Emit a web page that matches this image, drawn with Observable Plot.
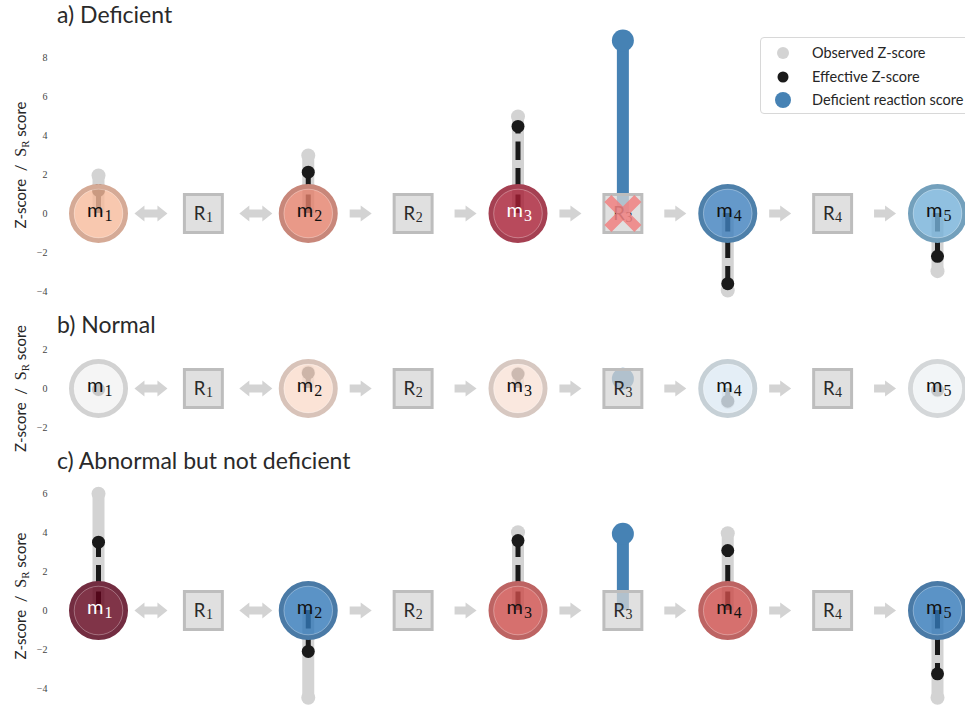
<!DOCTYPE html>
<html>
<head>
<meta charset="utf-8">
<script src="https://cdn.jsdelivr.net/npm/d3@7"></script>
<script src="https://cdn.jsdelivr.net/npm/@observablehq/plot@0.6"></script>
<style>
  body { margin: 0; background: #fff; overflow: hidden; }
  #fig { position: relative; width: 965px; height: 719px; overflow: hidden; font-family: Lato, sans-serif; }
  .title { position: absolute; left: 57px; font-size: 23px; line-height: 23px; color: #2a2a2a; white-space: nowrap; }
  .panel { position: absolute; left: 0; }
  #legend { position: absolute; left: 760px; top: 37px; width: 260px; height: 75px; border: 1px solid #d8d8d8;
            border-radius: 4px; background: rgba(255,255,255,0.85); font-size: 14.5px; color: #262626; }
  #legend .row { position: absolute; left: 0; height: 20px; line-height: 20px; white-space: nowrap; }
  #legend svg { position: absolute; left: 12px; top: 0; }
  #legend span { position: absolute; left: 51px; }
</style>
</head>
<body>
<div id="fig"></div>
<script>
// pathway layout: m1 <-> R1 <-> m2 -> R2 -> m3 -> R3 -> m4 -> R4 -> m5
const metLabels = ["1", "2", "3", "4", "5"]
const metX = [0, 2, 4, 6, 8]
const rxnLabels = ["1", "2", "3", "4"]
const rxnX = [1, 3, 5, 7]
const arrowX = [0.5, 1.5, 2.5, 3.5, 4.5, 5.5, 6.5, 7.5]
const arrowBoth = [true, true, false, false, false, false, false, false]

// a) Deficient
const obsA = [1.95, 2.98, 4.98, -3.95, -2.96]
const effA = [1.18, 2.12, 4.47, -3.6, -2.2]
const fillA = ["#f6ba9b", "#e37f6a", "#a61d33", "#3f80bd", "#74b0d8"]
const strokeA = ["#d5aa96", "#c8877a", "#a54052", "#4e80aa", "#73a0bc"]
const inkA = ["#111", "#111", "#fff", "#111", "#111"]
const scoreA = [null, null, 8.88, null]
const blockedA = [false, false, true, false]

// b) Normal
const obsB = [-0.05, 0.84, 0.77, -0.7, -0.1]
const effB = [-0.05, 0.8, 0.74, -0.65, -0.08]
const fillB = ["#f2f2f2", "#fadccc", "#f9e2d7", "#ddeaf4", "#eff3f5"]
const strokeB = ["#d2d2d2", "#d8c3b9", "#d7c8c1", "#c6d0d6", "#d4d7d9"]
const inkB = ["#111", "#111", "#111", "#111", "#111"]
const scoreB = [null, null, 0.5, null]
const blockedB = [false, false, false, false]

// c) Abnormal but not deficient
const obsC = [5.99, -4.48, 4.02, 3.97, -4.48]
const effC = [3.51, -2.1, 3.59, 3.08, -3.25]
const fillC = ["#60011a", "#3278b8", "#cc4c4a", "#cc4c4a", "#3278b8"]
const strokeC = ["#732d41", "#4a7aa6", "#bd6463", "#bd6463", "#4a7aa6"]
const inkC = ["#fff", "#111", "#111", "#111", "#111"]
const scoreC = [null, null, 3.94, null]
const blockedC = [false, false, false, false]

const panels = [
  {title: "a) Deficient", titleTop: 3, top: 0, height: 305, marginTop: 30, marginBottom: 5,
   y: [-4.466, 9.394], ticks: [-4, -2, 0, 2, 4, 6, 8],
   obs: obsA, eff: effA, fill: fillA, stroke: strokeA, ink: inkA, score: scoreA, blocked: blockedA},
  {title: "b) Normal", titleTop: 313, top: 330, height: 112, marginTop: 10, marginBottom: 5,
   y: [-2.515, 2.464], ticks: [-2, 0, 2],
   obs: obsB, eff: effB, fill: fillB, stroke: strokeB, ink: inkB, score: scoreB, blocked: blockedB},
  {title: "c) Abnormal but not deficient", titleTop: 449, top: 465, height: 254, marginTop: 10, marginBottom: 2,
   y: [-5.49, 6.93], ticks: [-4, -2, 0, 2, 4, 6],
   obs: obsC, eff: effC, fill: fillC, stroke: strokeC, ink: inkC, score: scoreC, blocked: blockedC}
]

// block arrows for Plot.vector (drawn pointing up, rotated to the right)
const sw = 4, hw = 8
const singleArrow = {draw(ctx, l) {
  const h = 11
  ctx.moveTo(-sw, 0); ctx.lineTo(-sw, h - l); ctx.lineTo(-hw, h - l); ctx.lineTo(0, -l)
  ctx.lineTo(hw, h - l); ctx.lineTo(sw, h - l); ctx.lineTo(sw, 0); ctx.closePath()
}}
const doubleArrow = {draw(ctx, l) {
  const h = 10
  ctx.moveTo(0, 0); ctx.lineTo(hw, -h); ctx.lineTo(sw, -h); ctx.lineTo(sw, h - l); ctx.lineTo(hw, h - l)
  ctx.lineTo(0, -l); ctx.lineTo(-hw, h - l); ctx.lineTo(-sw, h - l); ctx.lineTo(-sw, -h); ctx.lineTo(-hw, -h); ctx.closePath()
}}

const fig = d3.select('#fig')
const zero = () => 0
const serif = "Liberation Serif, DejaVu Serif, serif"

panels.forEach(p => {
  const met = metX.map((x, i) => ({x, sub: metLabels[i], obs: p.obs[i], eff: p.eff[i], fill: p.fill[i], stroke: p.stroke[i], ink: p.ink[i]}))
  const rxn = rxnX.map((x, i) => ({x, sub: rxnLabels[i], score: p.score[i], blocked: p.blocked[i]}))
  const arrows = arrowX.map((x, i) => ({x, both: arrowBoth[i]}))
  const scored = rxn.filter(d => d.score != null)

  let chart = Plot.plot({
    width: 965,
    height: p.height,
    marginTop: p.marginTop,
    marginBottom: p.marginBottom,
    marginLeft: 57,
    marginRight: 0,
    x: {domain: [-0.391, 8.267], axis: null},
    y: {domain: p.y},
    color: {type: "identity"},
    style: {fontFamily: "Lato, sans-serif", overflow: "visible", background: "transparent"},
    marks: [
      Plot.axisY({ticks: p.ticks, tickFormat: d3.format("d"), tickSize: 0, tickPadding: 10, line: true, label: null,
                  stroke: "#1a1a1a", strokeWidth: 2, fill: "#444", fontSize: 10}),
      // observed Z-score
      Plot.ruleX(met, {x: "x", y1: zero, y2: "obs", stroke: "#d3d3d3", strokeWidth: 12}),
      Plot.dot(met, {x: "x", y: "obs", r: 7, fill: "#d3d3d3"}),
      // effective Z-score
      Plot.ruleX(met, {x: "x", y1: zero, y2: "eff", stroke: "#1a1a1a", strokeWidth: 5, strokeDasharray: "18.5,8"}),
      Plot.dot(met, {x: "x", y: "eff", r: 6.5, fill: "#1a1a1a"}),
      // deficient reaction score
      Plot.ruleX(scored, {x: "x", y1: zero, y2: "score", stroke: "#4682b4", strokeWidth: 12}),
      Plot.dot(scored, {x: "x", y: "score", r: 11, fill: "#4682b4"}),
      // nodes
      Plot.dot(met, {x: "x", y: zero, r: 27, fill: "fill", stroke: "stroke", strokeWidth: 5, fillOpacity: 0.8}),
      Plot.dot(met, {x: "x", y: zero, r: 24.3, stroke: "white", strokeOpacity: 0.3, strokeWidth: 1}),
      Plot.dot(rxn, {x: "x", y: zero, symbol: "square", r: 21.4, fill: "#d6d6d6", fillOpacity: 0.75, stroke: "#bdbdbd", strokeWidth: 3}),
      Plot.vector(arrows.filter(d => d.both), {x: "x", y: zero, length: 33, rotate: 90, anchor: "middle", shape: doubleArrow, fill: "#d3d3d3", stroke: "none"}),
      Plot.vector(arrows.filter(d => !d.both), {x: "x", y: zero, length: 22, rotate: 90, anchor: "middle", shape: singleArrow, fill: "#d3d3d3", stroke: "none"}),
      // labels
      Plot.text(met, {x: "x", y: zero, text: () => "m", textAnchor: "end", dx: 5, dy: -3.4, fontSize: 20, fill: "ink"}),
      Plot.text(met, {x: "x", y: zero, text: "sub", textAnchor: "start", dx: 6, dy: 2.2, fontSize: 16, fontFamily: serif, fill: "ink"}),
      Plot.text(rxn, {x: "x", y: zero, text: () => "R", textAnchor: "end", dx: 2, dy: 0.5, fontSize: 18.5, fill: "#2a2a2a"}),
      Plot.text(rxn, {x: "x", y: zero, text: "sub", textAnchor: "start", dx: 2.5, dy: 4, fontSize: 14, fontFamily: serif, fill: "#2a2a2a"}),
      // knocked-out reaction
      Plot.dot(rxn.filter(d => d.blocked), {x: "x", y: zero, symbol: "times", r: 13.7, stroke: "#f08080", strokeWidth: 10, strokeOpacity: 0.85})
    ]
  })

  // serif tick labels, as in the original figure
  d3.select(chart).selectAll('g[aria-label="y-axis tick label"]').attr("font-family", serif)

  // y label with subscript
  const mid = (p.marginTop + p.height - p.marginBottom) / 2
  const lab = d3.select(chart).append("text")
    .attr("transform", `translate(26,${mid}) rotate(-90)`)
    .attr("text-anchor", "middle")
    .attr("font-size", 15)
    .attr("fill", "#262626")
  lab.append("tspan").attr("font-family", "Lato, sans-serif").text("Z-score  /  ")
  lab.append("tspan").attr("font-family", serif).attr("font-size", 16).text("S")
  lab.append("tspan").attr("font-family", serif).attr("font-size", 11).attr("dy", 3).text("R")
  lab.append("tspan").attr("font-family", "Lato, sans-serif").attr("dy", -3).text(" score")

  fig.append("div").attr("class", "title").style("top", p.titleTop + "px").text(p.title)
  fig.append("div").attr("class", "panel").style("top", p.top + "px").append(() => chart)
})

// legend
const legendItems = ["Observed Z-score", "Effective Z-score", "Deficient reaction score"]
const legendColors = ["#d3d3d3", "#1a1a1a", "#4682b4"]
const legendSizes = [6, 5.5, 8]
const legend = fig.append("div").attr("id", "legend")
legendItems.forEach((t, i) => {
  const row = legend.append("div").attr("class", "row").style("top", (5 + i * 23.5) + "px").style("width", "260px")
  row.append("svg").attr("width", 20).attr("height", 20)
    .append("circle").attr("cx", 10).attr("cy", 10).attr("r", legendSizes[i]).attr("fill", legendColors[i])
  row.append("span").text(t)
})
</script>
</body>
</html>
